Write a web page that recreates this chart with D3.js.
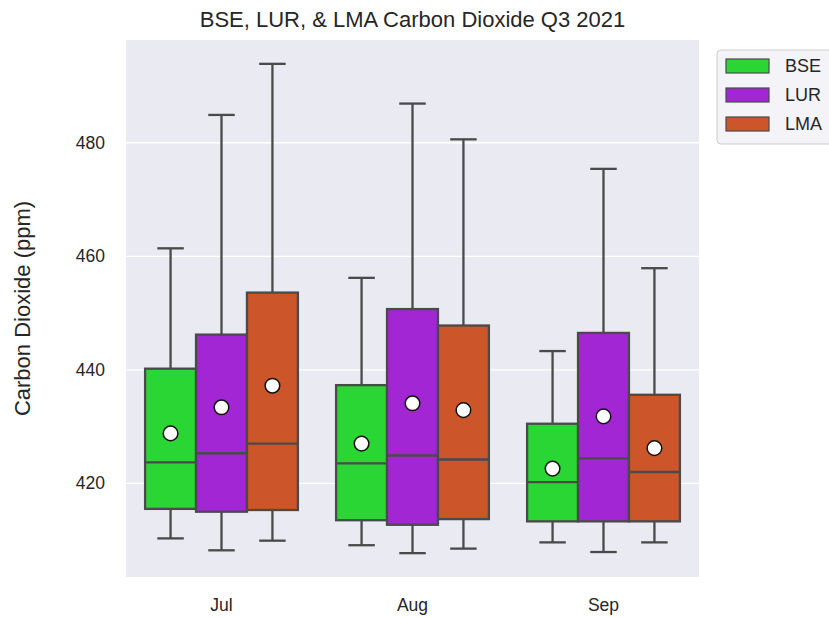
<!DOCTYPE html>
<html>
<head>
<meta charset="utf-8">
<script src="https://cdn.jsdelivr.net/npm/d3@7"></script>
<style>
  html, body { margin: 0; padding: 0; background: #ffffff; }
  svg text { font-family: "Liberation Sans", Arial, Helvetica, sans-serif; fill: #262626; }
</style>
</head>
<body>
<svg id="chart" width="829" height="617"></svg>
<script>
// Quarterly CO2 box statistics per site (ppm)
const months = ["Jul", "Aug", "Sep"];
const sites = ["BSE", "LUR", "LMA"];
const siteColors = ["#2ad634", "#a226d3", "#cc5529"];
const yTicks = [420, 440, 460, 480];

// rows: month, columns: site
const whiskerLow = [
  [410.3, 408.2, 409.9],
  [409.1, 407.7, 408.5],
  [409.6, 407.9, 409.6]
];
const q1 = [
  [415.5, 415.0, 415.3],
  [413.5, 412.7, 413.7],
  [413.3, 413.3, 413.3]
];
const median = [
  [423.7, 425.3, 427.0],
  [423.5, 424.9, 424.2],
  [420.2, 424.4, 422.0]
];
const q3 = [
  [440.2, 446.2, 453.6],
  [437.3, 450.7, 447.8],
  [430.5, 446.5, 435.6]
];
const whiskerHigh = [
  [461.4, 484.9, 493.9],
  [456.2, 486.9, 480.6],
  [443.3, 475.4, 457.9]
];
const means = [
  [428.8, 433.4, 437.2],
  [427.0, 434.1, 432.9],
  [422.6, 431.8, 426.2]
];

const svg = d3.select("#chart");
const plot = { left: 126, right: 699, top: 40, bottom: 577 };
const lineColor = "#4a4a4a";

const x = d3.scaleBand().domain(months).range([plot.left, plot.right]).padding(0);
const hue = d3.scaleBand().domain(sites)
  .range([x.bandwidth() * 0.1, x.bandwidth() * 0.9]).padding(0);
const y = d3.scaleLinear().domain([403.5, 498.1]).range([plot.bottom, plot.top]);
const color = d3.scaleOrdinal().domain(sites).range(siteColors);

// background panel
svg.append("rect")
  .attr("x", plot.left).attr("y", plot.top)
  .attr("width", plot.right - plot.left).attr("height", plot.bottom - plot.top)
  .attr("fill", "#eaeaf2");

// horizontal grid
svg.append("g").selectAll("line").data(yTicks).join("line")
  .attr("x1", plot.left).attr("x2", plot.right)
  .attr("y1", d => y(d)).attr("y2", d => y(d))
  .attr("stroke", "#ffffff").attr("stroke-width", 1.3);

// y axis labels
const yAxis = d3.axisLeft(y).tickValues(yTicks).tickSize(0).tickPadding(21);
const gy = svg.append("g").attr("transform", `translate(${plot.left},0)`).call(yAxis);
gy.select(".domain").remove();
gy.selectAll("text").style("font-size", "17.5px").attr("fill", "#262626")
  .style("font-family", "'Liberation Sans', Arial, sans-serif");

// x axis labels
const xAxis = d3.axisBottom(x).tickSize(0).tickPadding(22);
const gx = svg.append("g").attr("transform", `translate(0,${plot.bottom})`).call(xAxis);
gx.select(".domain").remove();
gx.selectAll("text").style("font-size", "17.5px").attr("fill", "#262626")
  .style("font-family", "'Liberation Sans', Arial, sans-serif");

// flatten into box records
const boxes = [];
months.forEach((m, i) => sites.forEach((s, j) => {
  boxes.push({
    month: m, site: s,
    lo: whiskerLow[i][j], q1: q1[i][j], med: median[i][j],
    q3: q3[i][j], hi: whiskerHigh[i][j], mean: means[i][j]
  });
}));

const bw = hue.bandwidth();
const capW = bw * 0.52;
const g = svg.append("g");
const bx = g.selectAll("g.box").data(boxes).join("g")
  .attr("class", "box")
  .attr("transform", d => `translate(${x(d.month) + hue(d.site)},0)`);

// whiskers
bx.append("line").attr("x1", bw / 2).attr("x2", bw / 2)
  .attr("y1", d => y(d.q3)).attr("y2", d => y(d.hi))
  .attr("stroke", lineColor).attr("stroke-width", 2.3);
bx.append("line").attr("x1", bw / 2).attr("x2", bw / 2)
  .attr("y1", d => y(d.q1)).attr("y2", d => y(d.lo))
  .attr("stroke", lineColor).attr("stroke-width", 2.3);
// caps
bx.append("line").attr("x1", bw / 2 - capW / 2).attr("x2", bw / 2 + capW / 2)
  .attr("y1", d => y(d.hi)).attr("y2", d => y(d.hi))
  .attr("stroke", lineColor).attr("stroke-width", 2.3);
bx.append("line").attr("x1", bw / 2 - capW / 2).attr("x2", bw / 2 + capW / 2)
  .attr("y1", d => y(d.lo)).attr("y2", d => y(d.lo))
  .attr("stroke", lineColor).attr("stroke-width", 2.3);
// boxes
bx.append("rect").attr("x", 0).attr("width", bw)
  .attr("y", d => y(d.q3)).attr("height", d => y(d.q1) - y(d.q3))
  .attr("fill", d => color(d.site))
  .attr("stroke", lineColor).attr("stroke-width", 2.3);
// medians
bx.append("line").attr("x1", 0).attr("x2", bw)
  .attr("y1", d => y(d.med)).attr("y2", d => y(d.med))
  .attr("stroke", lineColor).attr("stroke-width", 2.3);
// means
bx.append("circle").attr("cx", bw / 2).attr("cy", d => y(d.mean))
  .attr("r", 7.3).attr("fill", "#ffffff")
  .attr("stroke", "#111111").attr("stroke-width", 1.5);

// title
svg.append("text")
  .attr("x", (plot.left + plot.right) / 2).attr("y", 27)
  .attr("text-anchor", "middle")
  .style("font-size", "22px")
  .text("BSE, LUR, & LMA Carbon Dioxide Q3 2021");

// y axis title
svg.append("text")
  .attr("transform", `translate(30,${(plot.top + plot.bottom) / 2}) rotate(-90)`)
  .attr("text-anchor", "middle")
  .style("font-size", "22px")
  .text("Carbon Dioxide (ppm)");

// legend
const leg = svg.append("g").attr("transform", "translate(717,50)");
leg.append("rect").attr("x", 0).attr("y", 0).attr("width", 130).attr("height", 94)
  .attr("rx", 4).attr("fill", "#f4f4f8").attr("stroke", "#cccccc").attr("stroke-width", 1);
const items = leg.selectAll("g.item").data(sites).join("g")
  .attr("class", "item")
  .attr("transform", (d, i) => `translate(9,${16 + i * 29})`);
items.append("rect").attr("x", 0).attr("y", -7).attr("width", 43).attr("height", 14)
  .attr("fill", d => color(d)).attr("stroke", lineColor).attr("stroke-width", 1.2);
items.append("text").attr("x", 59).attr("y", 0).attr("dy", "0.35em")
  .style("font-size", "18px").text(d => d);
</script>
</body>
</html>
